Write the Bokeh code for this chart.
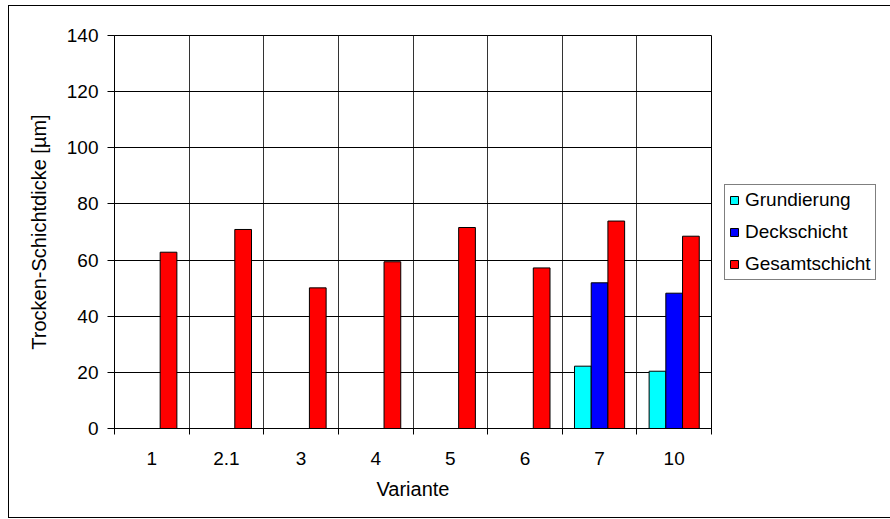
from bokeh.plotting import figure
from bokeh.models import (ColumnDataSource, FixedTicker, Legend, LegendItem,
                          Range1d)
from bokeh.transform import dodge
from bokeh.embed import file_html
from bokeh.resources import INLINE

nan = float("nan")

categories = ["1", "2.1", "3", "4", "5", "6", "7", "10"]
grundierung = [nan, nan, nan, nan, nan, nan, 22.2, 20.4]
deckschicht = [nan, nan, nan, nan, nan, nan, 51.9, 48.2]
gesamtschicht = [62.8, 70.9, 50.1, 59.4, 71.6, 57.2, 73.9, 68.5]
y_ticks = [0, 20, 40, 60, 80, 100, 120, 140]

FONT = "Liberation Sans"

n = len(categories)
xpos = [i + 0.5 for i in range(n)]
source = ColumnDataSource(dict(x=xpos, cat=categories, g=grundierung,
                               d=deckschicht, t=gesamtschicht))

p = figure(frame_width=597, frame_height=393, output_backend="svg",
           toolbar_location=None,
           x_range=Range1d(0, n), y_range=Range1d(0, 140),
           min_border_left=105, min_border_right=176,
           min_border_top=29, min_border_bottom=89,
           styles={"border": "1px solid black", "margin-left": "8px",
                   "margin-top": "5px"})

bw = 0.224
r1 = p.vbar(x=dodge("x", -bw, range=p.x_range), top="g", width=bw, source=source,
            fill_color="#00FFFF", line_color="black", line_width=1)
r2 = p.vbar(x="x", top="d", width=bw, source=source,
            fill_color="#0000FF", line_color="black", line_width=1)
r3 = p.vbar(x=dodge("x", bw, range=p.x_range), top="t", width=bw, source=source,
            fill_color="#FF0000", line_color="black", line_width=1)

# frame
p.outline_line_color = "black"
p.outline_line_width = 1
p.background_fill_color = "white"
p.border_fill_color = "white"

# grids
p.ygrid.ticker = FixedTicker(ticks=y_ticks)
p.ygrid.grid_line_color = "black"
p.ygrid.grid_line_width = 1
p.xgrid.ticker = FixedTicker(ticks=list(range(n + 1)))
p.xgrid.grid_line_color = "#333333"
p.xgrid.grid_line_width = 1

# y axis
p.yaxis.ticker = FixedTicker(ticks=y_ticks)
p.yaxis.major_tick_out = 7
p.yaxis.major_tick_in = 0
p.yaxis.minor_tick_out = 0
p.yaxis.minor_tick_in = 0
p.yaxis.major_label_standoff = 9
p.yaxis.axis_label = "Trocken-Schichtdicke [µm]"
p.yaxis.axis_label_standoff = 14

# x axis
p.xaxis.ticker = FixedTicker(ticks=xpos, minor_ticks=list(range(n + 1)))
p.xaxis.major_label_overrides = {x: c for x, c in zip(xpos, categories)}
p.xaxis.major_tick_out = 0
p.xaxis.major_tick_in = 0
p.xaxis.minor_tick_out = 6
p.xaxis.minor_tick_in = 0
p.xaxis.minor_tick_line_color = "black"
p.xaxis.major_label_standoff = 17
p.xaxis.axis_label = "Variante"
p.xaxis.axis_label_standoff = 10

for ax in (p.xaxis[0], p.yaxis[0]):
    ax.axis_line_color = "black"
    ax.axis_line_width = 1
    ax.major_tick_line_color = "black"
    ax.major_label_text_font = FONT
    ax.major_label_text_font_size = "19px"
    ax.major_label_text_color = "black"
    ax.axis_label_text_font = FONT
    ax.axis_label_text_font_size = "20px"
    ax.axis_label_text_font_style = "normal"
    ax.axis_label_text_color = "black"

legend = Legend(items=[LegendItem(label="Grundierung", renderers=[r1]),
                       LegendItem(label="Deckschicht", renderers=[r2]),
                       LegendItem(label="Gesamtschicht", renderers=[r3])],
                location="left")
legend.label_text_font = FONT
legend.label_text_font_size = "19px"
legend.label_text_color = "black"
legend.glyph_width = 10
legend.glyph_height = 10
legend.label_height = 22
legend.spacing = 10
legend.padding = 4
legend.margin = 13
legend.label_standoff = 6
legend.border_line_color = "black"
legend.border_line_width = 1
legend.background_fill_color = "white"
legend.background_fill_alpha = 1
p.add_layout(legend, "right")

open("out.html", "w").write(file_html(p, INLINE))
